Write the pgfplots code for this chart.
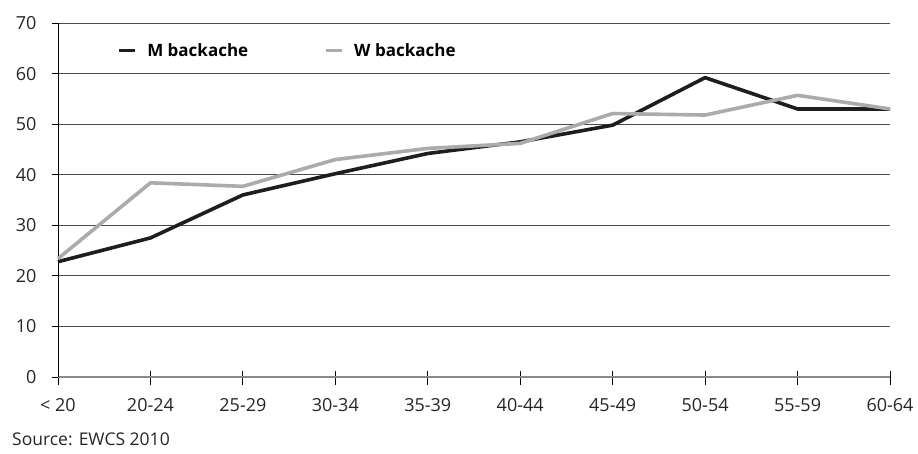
\documentclass[border=0pt]{standalone}
\usepackage{fontspec}
\setmainfont{Open Sans}
\usepackage{pgfplots}
\pgfplotsset{compat=1.18}
\definecolor{mline}{HTML}{1E1E1E}
\definecolor{wline}{HTML}{ABABAB}
\definecolor{gridc}{HTML}{4A4A4A}
\definecolor{axc}{HTML}{8A8A8A}
\newcommand{\tlfont}{\fontsize{18}{22}\selectfont}
\begin{document}
\begin{tikzpicture}[x=1pt,y=1pt]
\begin{axis}[
  at={(0,0)}, anchor=south west,
  scale only axis, width=832pt, height=354pt,
  xmin=0, xmax=9, ymin=0, ymax=70,
  xtick={0,...,9},
  xticklabels={{\tlfont < 20},{\tlfont 20-24},{\tlfont 25-29},{\tlfont 30-34},{\tlfont 35-39},{\tlfont 40-44},{\tlfont 45-49},{\tlfont 50-54},{\tlfont 55-59},{\tlfont 60-64}},
  ytick={0,10,...,70},
  yticklabels={{\tlfont 0},{\tlfont 10},{\tlfont 20},{\tlfont 30},{\tlfont 40},{\tlfont 50},{\tlfont 60},{\tlfont 70}},
  axis x line*=bottom, axis y line*=left,
  axis line style={line width=0.9pt},
  x axis line style={draw=axc, line width=1.4pt, -},
  y axis line style={draw=black, -},
  ymajorgrids, major grid style={draw=gridc, line width=0.9pt},
  major tick length=6pt,
  xtick style={draw=black, line width=0.8pt, /pgfplots/major tick length=14pt, yshift=6pt},
  ytick style={draw=black, line width=0.8pt},
  tick align=outside,
  yticklabel style={text=black!85, anchor=east, xshift=-12pt},
  xticklabel style={text=black!85, yshift=-12pt},
  clip=false,
  legend style={at={(0.071,0.922)}, anchor=west, draw=none, fill=none,
    font=\fontsize{17}{20}\selectfont\bfseries, legend columns=2,
    /tikz/every odd column/.append style={column sep=9pt},
    /tikz/every even column/.append style={column sep=74pt},
    inner sep=0pt},
  legend image code/.code={\draw[#1, line width=3pt] (0pt,0pt) -- (16pt,0pt);},
]
\addplot[mline, line width=3.6pt, line join=round] coordinates {
 (0,22.8) (1,27.5) (2,36.0) (3,40.2) (4,44.2) (5,46.5) (6,49.8) (7,59.2) (8,53.0) (9,53.0)};
\addlegendentry{M backache}
\addplot[wline, line width=3.6pt, line join=round] coordinates {
 (0,23.4) (1,38.4) (2,37.7) (3,43.0) (4,45.2) (5,46.2) (6,52.1) (7,51.8) (8,55.7) (9,53.0)};
\addlegendentry{W backache}
\end{axis}
\node[anchor=base west, font=\fontsize{17.5}{20}\selectfont, text=black!85, inner sep=0pt] at (-46pt,-68pt) {Source: EWCS 2010};
\pgfresetboundingbox
\path[use as bounding box] (-58pt,-76pt) rectangle (860pt,377pt);
\end{tikzpicture}
\end{document}
